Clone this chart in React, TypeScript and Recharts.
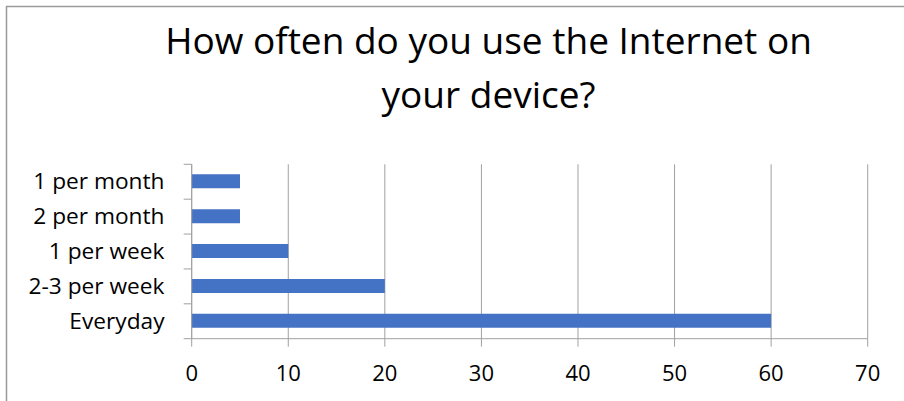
import React from "react";
import { BarChart, Bar, XAxis, YAxis, CartesianGrid } from "recharts";

const categories = ["1 per month", "2 per month", "1 per week", "2-3 per week", "Everyday"];
const responses = [5, 5, 10, 20, 60];
const xTicks = [0, 10, 20, 30, 40, 50, 60, 70];
const titleLines = ["How often do you use the Internet on", "your device?"];

const data = categories.map((c, i) => ({ name: c, value: responses[i] }));

const W = 904;
const H = 401;
const PLOT_LEFT = 191.7;
const PLOT_RIGHT = 867.7;
const PLOT_TOP = 164.3;
const PLOT_BOTTOM = 338.7;
const GRID = "#a0a0a0";
const FONT = "'Open Sans', sans-serif";

const YTick = (props: any) => {
  const { y, payload, index, visibleTicksCount } = props;
  const half = payload && payload.offset ? payload.offset : (PLOT_BOTTOM - PLOT_TOP) / categories.length / 2;
  const x0 = PLOT_LEFT - 8;
  return (
    <g>
      <text
        x={164.5}
        y={y}
        dy="0.34em"
        textAnchor="end"
        fill="#000"
        fontSize={22.7}
        fontFamily={FONT}
      >
        {payload.value}
      </text>
      <line x1={x0} x2={PLOT_LEFT} y1={y - half} y2={y - half} stroke={GRID} strokeWidth={1} />
      {index === visibleTicksCount - 1 ? (
        <line x1={x0} x2={PLOT_LEFT} y1={y + half} y2={y + half} stroke={GRID} strokeWidth={1} />
      ) : null}
    </g>
  );
};

export default function App() {
  return (
    <div style={{ position: "absolute", left: 0, top: 0, width: W, height: H, background: "#fff", overflow: "hidden" }}>
      <BarChart
        width={W}
        height={H}
        data={data}
        layout="vertical"
        margin={{ top: PLOT_TOP, right: W - PLOT_RIGHT, bottom: 0, left: 0 }}
        barSize={14}
      >
        <CartesianGrid horizontal={false} stroke={GRID} strokeWidth={1} />
        <XAxis
          type="number"
          domain={[0, 70]}
          ticks={xTicks}
          interval={0}
          height={H - PLOT_BOTTOM}
          tickSize={8}
          tickMargin={19}
          axisLine={{ stroke: GRID }}
          tickLine={{ stroke: GRID }}
          tick={{ fill: "#000", fontSize: 22, fontFamily: FONT }}
        />
        <YAxis
          type="category"
          dataKey="name"
          width={PLOT_LEFT}
          interval={0}
          tickSize={8}
          tickMargin={19}
          axisLine={{ stroke: GRID }}
          tickLine={false}
          tick={<YTick />}
        />
        <Bar dataKey="value" fill="#4472c4" isAnimationActive={false} />
      </BarChart>
      <svg
        width={W}
        height={H}
        style={{ position: "absolute", left: 0, top: 0, pointerEvents: "none" }}
      >
        <path d={`M 6.5 ${H + 10} L 6.5 6.5 L ${W + 10} 6.5`} fill="none" stroke="#9a9a9a" strokeWidth={1.5} />
        <text x={488.5} y={54} textAnchor="middle" fontSize={37} fontFamily={FONT} fill="#000">
          {titleLines[0]}
        </text>
        <text x={488.5} y={107.5} textAnchor="middle" fontSize={37} fontFamily={FONT} fill="#000">
          {titleLines[1]}
        </text>
      </svg>
    </div>
  );
}
